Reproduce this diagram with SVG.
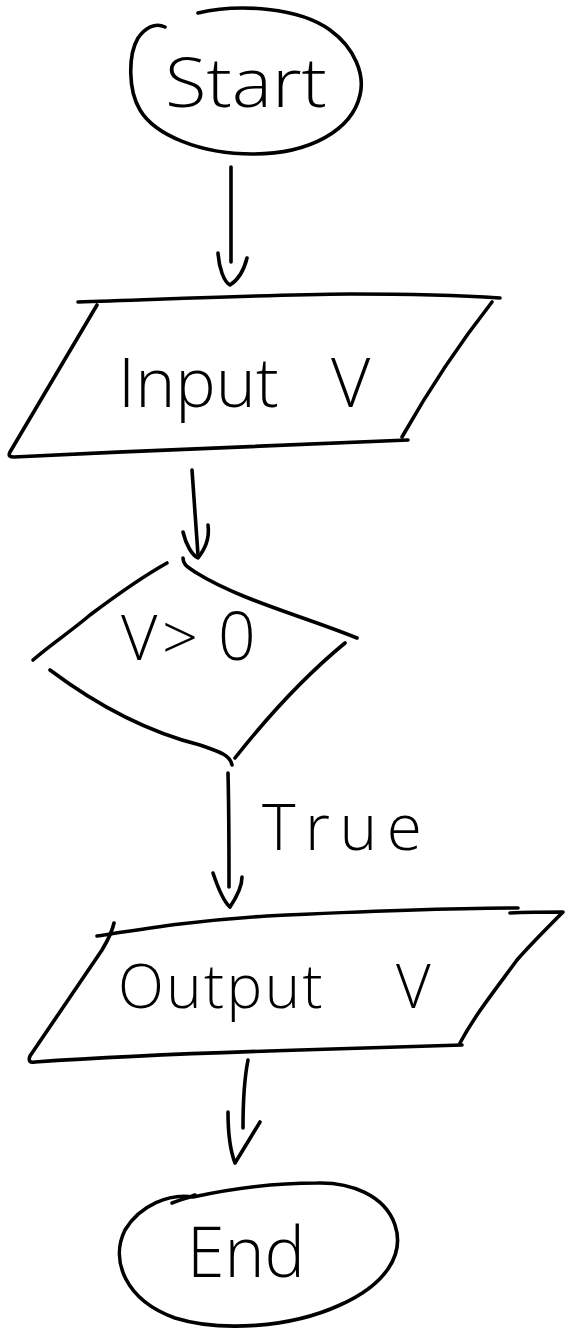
<svg xmlns="http://www.w3.org/2000/svg" width="571" height="1333" viewBox="0 0 571 1333">
<style>
.s{fill:none;stroke:#000;stroke-width:3.6;stroke-linecap:round;stroke-linejoin:round}
.t{font-family:"Open Sans","Liberation Sans",sans-serif;font-weight:300;fill:#000}
</style>
<rect width="571" height="1333" fill="#fff"/>
<g id="start">
<path class="s" d="M198,13 C240,3 300,8 330,30 C355,48 365,75 360,95 C352,130 310,154 253,154 C200,154 155,135 140,110 C128,90 128,55 138,38 C145,28 155,22 165,27"/>
<text class="t" x="165" y="107" font-size="68" textLength="162" lengthAdjust="spacingAndGlyphs">Start</text>
</g>
<g id="input">
<path class="s" d="M78,302 C150,300 250,295 350,294 C420,294 470,296 500,298"/>
<path class="s" d="M97,305 L10,452 C8,456 10,457 14,457 C150,450 300,445 408,440"/>
<path class="s" d="M492,302 C470,330 440,370 402,437"/>
<text class="t" y="407" font-size="68"><tspan x="118">Input</tspan> <tspan x="331">V</tspan></text>
</g>
<g id="decision">
<path class="s" d="M167,563 C140,578 110,600 90,615 C70,632 50,645 33,660"/>
<path class="s" d="M183,558 C183,565 188,567 195,572 C240,600 300,615 357,638"/>
<path class="s" d="M345,643 C300,680 265,720 235,758"/>
<path class="s" d="M50,670 C90,700 140,730 200,745 C220,752 230,755 232,765"/>
<text class="t" y="660" font-size="63"><tspan x="121">V</tspan><tspan x="162">&gt;</tspan><tspan x="218" font-size="66">0</tspan></text>
</g>
<g id="output">
<path class="s" d="M97,936 C150,928 200,920 267,916 C350,912 440,908 518,908"/>
<path class="s" d="M510,913 C530,912 548,912 563,912 C545,930 530,945 517,960 C495,990 475,1015 460,1043"/>
<path class="s" d="M114,923 C112,932 108,940 102,950 L30,1056 C28,1061 30,1063 35,1062 C120,1056 200,1053 300,1050 C380,1048 430,1046 462,1045"/>
<text class="t" y="1008" font-size="60"><tspan x="118" letter-spacing="2.4">Output</tspan> <tspan x="396">V</tspan></text>
</g>
<g id="end">
<path class="s" d="M172,1203 C180,1200 190,1197 195,1195"/>
<path class="s" d="M193,1197 C170,1193 140,1205 125,1230 C110,1260 125,1300 175,1318 C220,1332 290,1328 340,1305 C385,1285 405,1255 395,1225 C385,1195 350,1182 317,1183 C270,1183 225,1190 193,1197"/>
<text class="t" x="187" y="1277" font-size="70" textLength="118" lengthAdjust="spacingAndGlyphs">End</text>
</g>
<g id="connectors">
<path class="s" d="M231,167 C231,200 231,240 231,262"/>
<path class="s" d="M218,253 C219,268 224,282 230,285 C238,280 244,270 247,258"/>
<path class="s" d="M192,470 C194,500 196,530 198,555"/>
<path class="s" d="M183,532 C186,545 192,555 198,558 C204,550 210,540 208,525"/>
<path class="s" d="M228,773 C229,810 229,850 229,887"/>
<path class="s" d="M213,873 C218,888 224,902 230,907 C236,898 242,888 242,877"/>
<text class="t" x="262" y="850" font-size="64" textLength="160" lengthAdjust="spacing">True</text>
<path class="s" d="M248,1060 C244,1080 243,1105 243,1128"/>
<path class="s" d="M228,1112 C228,1130 230,1150 235,1163 C243,1150 252,1135 260,1122"/>
</g>
</svg>
